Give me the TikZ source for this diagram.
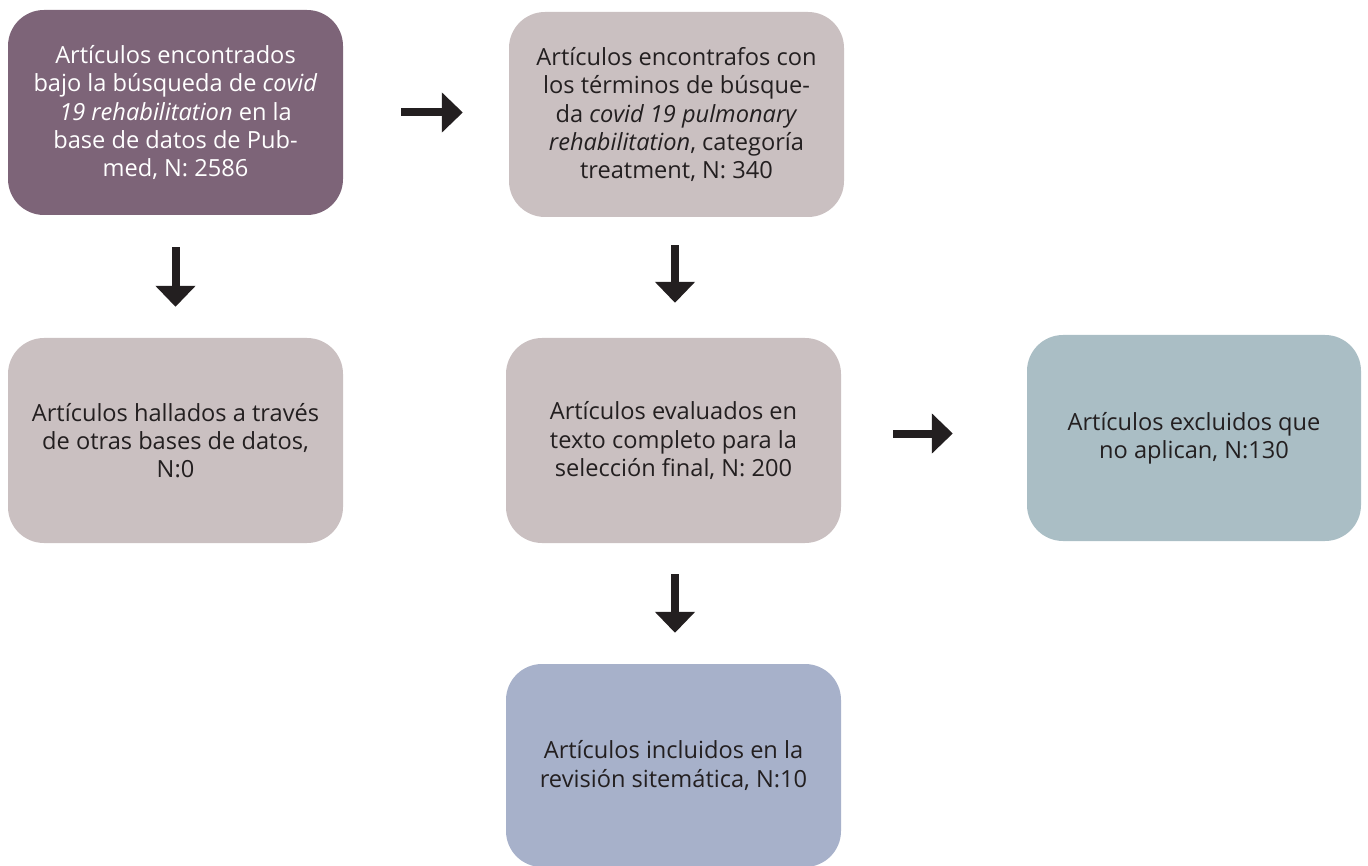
\documentclass[tikz,border=0pt]{standalone}
\usepackage{fontspec}
\setmainfont{Open Sans}
\usetikzlibrary{arrows.meta}
\definecolor{cA}{HTML}{7D6478}
\definecolor{cG}{HTML}{CAC0C1}
\definecolor{cE}{HTML}{AABEC5}
\definecolor{cF}{HTML}{A7B1CA}
\definecolor{ink}{HTML}{231F20}
\begin{document}
\begin{tikzpicture}[x=1pt,y=-1pt,
  box/.style={rounded corners=36pt, minimum width=335pt, minimum height=205pt,
    inner sep=0pt, align=center, font=\fontsize{23.6}{28.3}\selectfont, text=ink},
  arr/.style={draw=ink, line width=8pt, -{Triangle[length=21pt,width=39pt]}},
]
\useasboundingbox (0,0) rectangle (1368,866);
\node[box, fill=cA, text=white] (A) at (175.5,112.5)
  {Artículos encontrados\\bajo la búsqueda de \textit{covid}\\\textit{19 rehabilitation} en la\\base de datos de Pub-\\med, N: 2586};
\node[box, fill=cG] (B) at (676.5,114.5)
  {Artículos encontrafos con\\los términos de búsque-\\da \textit{covid 19 pulmonary}\\\textit{rehabilitation}, categoría\\treatment, N: 340};
\node[box, fill=cG] (C) at (175.5,440.5)
  {Artículos hallados a través\\de otras bases de datos,\\N:0};
\node[box, fill=cG] (D) at (673.5,440.5)
  {Artículos evaluados en\\texto completo para la\\selección final, N: 200};
\node[box, fill=cE, minimum width=334pt, minimum height=206pt] (E) at (1194,438)
  {Artículos excluidos que\\no aplican, N:130};
\node[box, fill=cF, minimum height=203pt] (F) at (673.5,765.5)
  {Artículos incluidos en la\\revisión sitemática, N:10};
\draw[arr, shorten <=58pt, shorten >=46pt] (A.east) -- (A.east -| B.west);
\draw[arr, shorten <=32pt, shorten >=31pt] (A.south) -- (C.north);
\draw[arr, shorten <=28pt, shorten >=35pt] ([xshift=1.5pt]D.north |- B.south) -- ([xshift=1.5pt]D.north);
\draw[arr, shorten <=52pt, shorten >=74pt] ([yshift=7pt]D.east) -- ([yshift=7pt]D.east -| E.west);
\draw[arr, shorten <=31pt, shorten >=31pt] ([xshift=1.5pt]D.south) -- ([xshift=1.5pt]F.north);
\end{tikzpicture}
\end{document}
